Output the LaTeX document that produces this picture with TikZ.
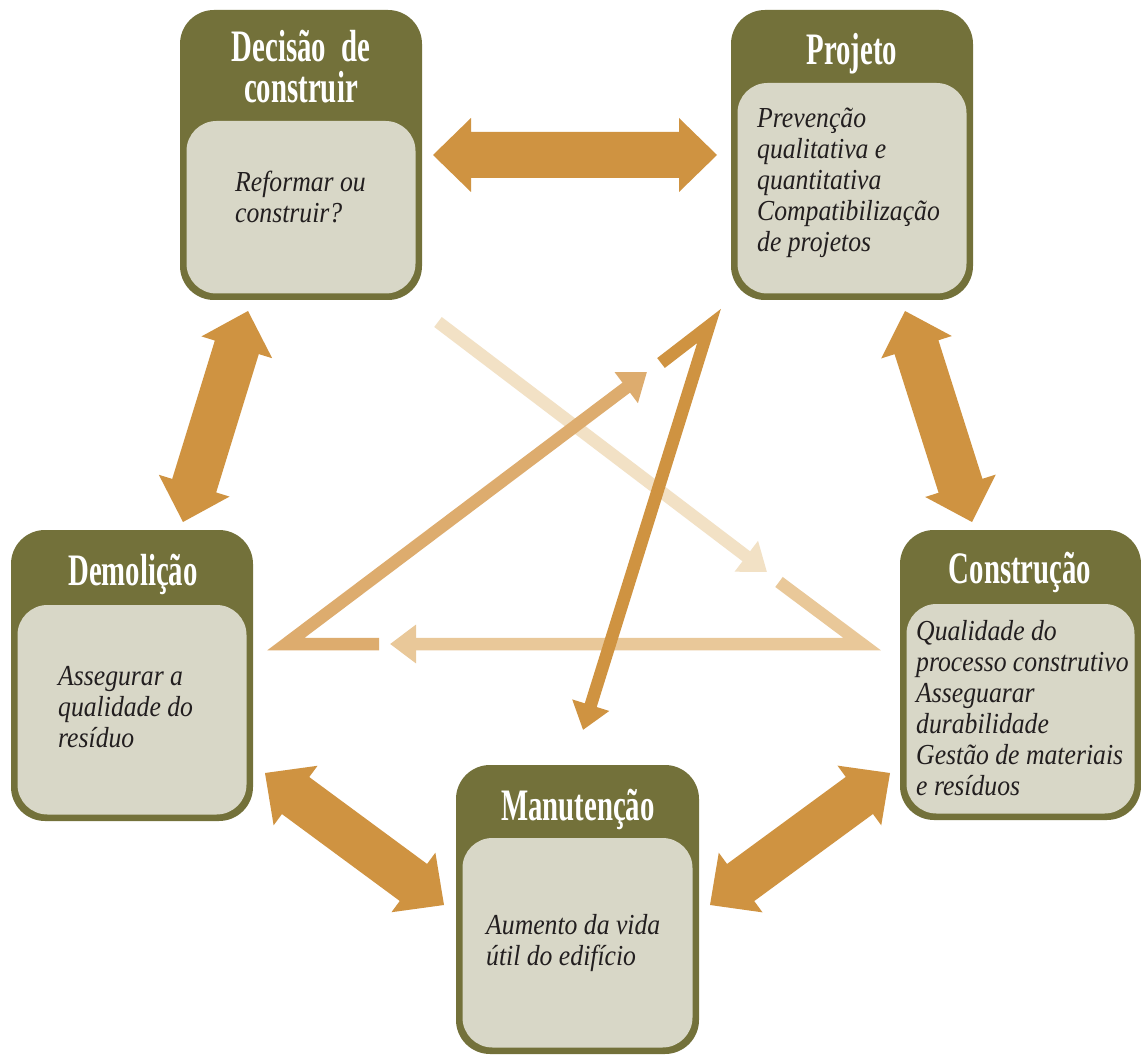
\documentclass[tikz,border=0pt]{standalone}
\usepackage{fontspec}
\setmainfont{Liberation Serif}
\newfontfamily\titlefont[FakeStretch=0.64]{Liberation Serif}
\newfontfamily\bodyfont[FakeStretch=0.886]{Liberation Serif}
\usetikzlibrary{arrows.meta,calc}
\definecolor{olivec}{HTML}{73713A}
\definecolor{panelc}{HTML}{D8D7C7}
\definecolor{textc}{HTML}{221E1F}
\definecolor{orangeA}{HTML}{CF9341}
\definecolor{orangeB}{HTML}{DDAC6E}
\definecolor{orangeC}{HTML}{E9C899}
\definecolor{orangeD}{HTML}{F2E1C5}
\tikzset{
  obox/.style={fill=olivec, rounded corners=34pt, inner sep=0pt},
  ibox/.style={fill=panelc, rounded corners=30pt, inner sep=0pt},
  ttl/.style={text=white, font=\titlefont\bfseries\fontsize{45}{41}\selectfont, inner sep=0pt, anchor=base, text width=240pt, align=center},
  body/.style={font=\bodyfont\itshape\fontsize{29}{31}\selectfont, text width=226pt, align=flush left, inner sep=0pt, anchor=base west, text=textc},
  bigarrow/.style={fill=orangeA},
  thinarrow/.style={line width=12.5pt, line join=miter, -{Triangle[length=26pt,width=37pt]}},
}
\newcommand\bigdbl[2]{%
  \fill[bigarrow] (#1)
  -- ($(#1)!38pt!(#2)!37pt!90:(#2)$) -- ($(#1)!38pt!(#2)!23pt!90:(#2)$)
  -- ($(#2)!38pt!(#1)!23pt!-90:(#1)$) -- ($(#2)!38pt!(#1)!37pt!-90:(#1)$)
  -- (#2)
  -- ($(#2)!38pt!(#1)!37pt!90:(#1)$) -- ($(#2)!38pt!(#1)!23pt!90:(#1)$)
  -- ($(#1)!38pt!(#2)!23pt!-90:(#2)$) -- ($(#1)!38pt!(#2)!37pt!-90:(#2)$)
  -- cycle;}
\begin{document}
\begin{tikzpicture}[x=1pt,y=-1pt]
\useasboundingbox (0,0) rectangle (1141,1056);
\fill[white] (0,0) rectangle (1141,1056);

% outer boxes
\node[obox, minimum width=242pt, minimum height=290pt] (dec) at (301,155) {};
\node[obox, minimum width=242pt, minimum height=290pt] (pro) at (852,155) {};
\node[obox, minimum width=241pt, minimum height=290pt] (con) at (1020.5,675) {};
\node[obox, minimum width=242pt, minimum height=291pt] (dem) at (132,675.5) {};
\node[obox, minimum width=243pt, minimum height=289pt] (man) at (577.5,909.5) {};

% inner panels
\node[ibox, minimum width=229pt, minimum height=172.5pt] (decp) at (301,207.25) {};
\node[ibox, minimum width=229pt, minimum height=210.5pt] (prop) at (852,188.25) {};
\node[ibox, minimum width=228pt, minimum height=209.5pt] (conp) at (1020.5,708.75) {};
\node[ibox, minimum width=229pt, minimum height=209.5pt] (demp) at (132,709.75) {};
\node[ibox, minimum width=230pt, minimum height=209.5pt] (manp) at (577.5,942.75) {};

% titles
\node[ttl] (dect) at (301,62) {Decisão de\\construir};
\node[ttl] (prot) at (852,65) {Projeto};
\node[ttl] (cont) at (1020,583) {Construção};
\node[ttl] (demt) at (133,585) {Demolição};
\node[ttl] (mant) at (578,820) {Manutenção};

% body texts
\node[body] (decx) at (235,192) {Reformar ou\\construir?};
\node[body] (prox) at (757,128) {Prevenção\\qualitativa e\\quantitativa\\Compatibilização\\de projetos};
\node[body] (conx) at (916,640) {Qualidade do\\processo construtivo\\Asseguarar\\durabilidade\\Gestão de materiais\\e resíduos};
\node[body] (demx) at (58,685) {Assegurar a\\qualidade do\\resíduo};
\node[body] (manx) at (486,934) {Aumento da vida\\útil do edifício};

% big double arrows
\coordinate (h1) at (433,155);  \coordinate (h2) at (717,155);
\coordinate (l1) at (248,311);  \coordinate (l2) at (183,522);
\coordinate (r1) at (905,311);  \coordinate (r2) at (972,522);
\coordinate (bl1) at (265,773); \coordinate (bl2) at (444,905);
\coordinate (br1) at (890,773); \coordinate (br2) at (710,905);
\bigdbl{h1}{h2}
\bigdbl{l1}{l2}
\bigdbl{r1}{r2}
\bigdbl{bl1}{bl2}
\bigdbl{br1}{br2}

% inner triangle of thin arrows
\coordinate (d1s) at (438,322); \coordinate (d1e) at (767,572);
\coordinate (c1s) at (779,582); \coordinate (c1k) at (862,644); \coordinate (c1e) at (390,644);
\coordinate (m1s) at (379,644); \coordinate (m1k) at (286,644); \coordinate (m1e) at (647,372);
\coordinate (a1s) at (661,363); \coordinate (a1k) at (709,326); \coordinate (a1e) at (583,730);
\draw[thinarrow, draw=orangeD] (d1s) -- (d1e);
\draw[thinarrow, draw=orangeC] (c1s) -- (c1k) -- (c1e);
\draw[thinarrow, draw=orangeB] (m1s) -- (m1k) -- (m1e);
\draw[thinarrow, draw=orangeA] (a1s) -- (a1k) -- (a1e);
\end{tikzpicture}
\end{document}
